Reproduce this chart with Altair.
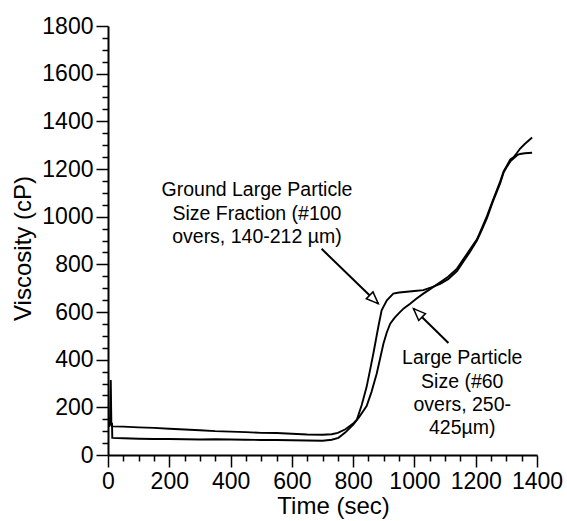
import altair as alt
import pandas as pd

# Series A: Ground Large Particle Size Fraction (#100 overs, 140-212 um)
time_a = [4, 7, 9, 11, 14, 50, 100, 150, 200, 250, 300, 350, 400, 450, 500, 550, 600, 650, 700,
          730, 750, 775, 800, 812, 828, 844, 855, 866, 882, 893, 910, 931, 950, 975, 1000, 1029,
          1060, 1084, 1110, 1139, 1160, 1180, 1204, 1220, 1237, 1255, 1269, 1280, 1291, 1302,
          1313, 1324, 1335, 1345, 1360, 1384]
visc_a = [118, 160, 315, 125, 120, 119, 116, 114, 110, 107, 104, 100, 98, 96, 93, 92, 89, 86, 85,
          87, 93, 108, 132, 148, 210, 286, 355, 426, 537, 607, 649, 677, 682, 685, 688, 692,
          705, 718, 738, 772, 812, 850, 900, 945, 995, 1060, 1105, 1140, 1185, 1210,
          1232, 1245, 1258, 1263, 1266, 1268]

# Series B: Large Particle Size (#60 overs, 250-425 um)
time_b = [13, 14, 50, 100, 150, 200, 250, 300, 350, 400, 450, 500, 550, 600, 650, 700, 730, 752,
          775, 801, 820, 844, 860, 877, 899, 910, 921, 935, 948, 965, 986, 1005, 1029, 1050, 1084,
          1110, 1139, 1160, 1180, 1204, 1220, 1237, 1255, 1269, 1280, 1291, 1302, 1313, 1324,
          1335, 1345, 1360, 1384]
visc_b = [135, 72, 70, 68, 67, 67, 66, 65, 66, 65, 64, 63, 63, 62, 61, 60, 64, 72,
          95, 128, 160, 205, 265, 342, 468, 515, 551, 575, 593, 615, 635, 655, 677, 695, 725,
          748, 782, 822, 860, 905, 952, 1003, 1065, 1112, 1148, 1190, 1215, 1240, 1250,
          1268, 1286, 1305, 1332]

# Axis ticks
x_major = list(range(0, 1401, 200))
x_minor = [v for v in range(0, 1401, 50) if v % 200 != 0]
y_major = list(range(0, 1801, 200))
y_minor = [v for v in range(0, 1801, 50) if v % 200 != 0]

# Annotations
ground_lines = ["Ground Large Particle", "Size Fraction (#100", "overs, 140-212 \u00b5m)"]
ground_x = [486, 486, 486]
ground_y = [1111, 1013, 913]
large_lines = ["Large Particle", "Size (#60", "overs, 250-", "425\u00b5m)"]
large_x = [1156, 1156, 1156, 1156]
large_y = [405, 307, 210, 112]

arrow_x0 = [697, 1111]
arrow_y0 = [865, 470]
arrow_x1 = [882, 997]
arrow_y1 = [635, 614]
arrow_angle = [44, 224.5]

df = pd.concat([
    pd.DataFrame({"time": time_a, "visc": visc_a, "series": "A"}),
    pd.DataFrame({"time": time_b, "visc": visc_b, "series": "B"}),
])
text_df = pd.DataFrame({
    "label": ground_lines + large_lines,
    "x": ground_x + large_x,
    "y": ground_y + large_y,
})
arrow_df = pd.DataFrame({"x0": arrow_x0, "y0": arrow_y0, "x1": arrow_x1, "y1": arrow_y1,
                         "angle": arrow_angle})

FONT = "Liberation Sans"
xscale = alt.Scale(domain=[0, 1400], nice=False, zero=False)
yscale = alt.Scale(domain=[0, 1800], nice=False, zero=False)

xaxis = alt.Axis(
    orient="bottom", values=x_major, format="d", tickSize=12,
    tickColor="black", tickWidth=1.5, domainColor="black", domainWidth=2,
    labelFont=FONT, labelFontSize=23, labelColor="black", labelPadding=3,
    labelFlush=False, labelOverlap=False, grid=False,
    titleFont=FONT, titleFontSize=24, titleFontWeight="normal",
    titleColor="black", titleX=225, titleY=58, titleBaseline="alphabetic", titleAlign="center",
)
yaxis = alt.Axis(
    orient="left", values=y_major, format="d", tickSize=12,
    tickColor="black", tickWidth=1.5, domainColor="black", domainWidth=2,
    labelFont=FONT, labelFontSize=23, labelColor="black", labelPadding=3,
    labelFlush=False, labelOverlap=False, grid=False,
    titleFont=FONT, titleFontSize=24, titleFontWeight="normal",
    titleColor="black", titleAngle=270, titleX=-78, titleY=222, titleBaseline="alphabetic",
    titleAlign="center",
)
xaxis_minor = alt.Axis(orient="bottom", values=x_minor, tickSize=6, tickColor="black",
                       tickWidth=1.5, labels=False, domain=False, grid=False)
yaxis_minor = alt.Axis(orient="left", values=y_minor, tickSize=6, tickColor="black",
                       tickWidth=1.5, labels=False, domain=False, grid=False)

lines = alt.Chart(df).mark_line(color="black", strokeWidth=1.9).encode(
    x=alt.X("time:Q", scale=xscale, axis=xaxis, title="Time (sec)"),
    y=alt.Y("visc:Q", scale=yscale, axis=yaxis, title="Viscosity (cP)"),
    detail="series:N",
)

minor = alt.Chart(df).mark_line(opacity=0).encode(
    x=alt.X("time:Q", scale=xscale, axis=xaxis_minor, title=""),
    y=alt.Y("visc:Q", scale=yscale, axis=yaxis_minor, title=""),
    detail="series:N",
)

texts = alt.Chart(text_df).mark_text(font=FONT, fontSize=19.5, color="black",
                                     align="center", baseline="middle").encode(
    x=alt.X("x:Q", axis=None), y=alt.Y("y:Q", axis=None), text="label:N")

rules = alt.Chart(arrow_df).mark_rule(color="black", strokeWidth=2).encode(
    x=alt.X("x0:Q", axis=None), y=alt.Y("y0:Q", axis=None), x2="x1:Q", y2="y1:Q")

heads = alt.Chart(arrow_df).mark_point(
    shape="M0,0L-2,-0.8L-2,0.8Z", filled=True, fill="white", stroke="black",
    strokeWidth=1.5, size=144, opacity=1).encode(
    x=alt.X("x1:Q", axis=None), y=alt.Y("y1:Q", axis=None),
    angle=alt.Angle("angle:Q", scale=None))

chart = alt.layer(lines, minor, rules, heads, texts).resolve_axis(
    x="independent", y="independent"
).properties(
    width=429, height=429,
    padding={"left": 108, "top": 26, "right": 30, "bottom": 66},
    autosize=alt.AutoSizeParams(type="none"),
    background="white",
).configure_view(strokeWidth=0)

chart.save("out.html", embed_options={"renderer": "svg", "actions": False})
